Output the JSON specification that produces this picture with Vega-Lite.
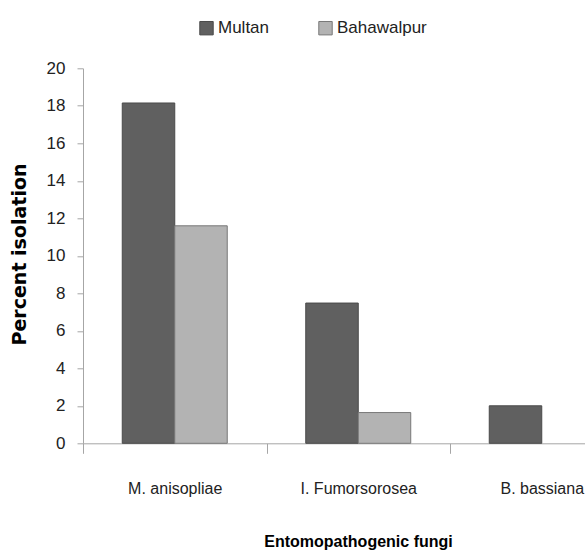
{
  "$schema": "https://vega.github.io/schema/vega-lite/v6.json",
  "autosize": {"type": "none"},
  "width": 502,
  "height": 375,
  "padding": {"left": 83, "top": 68.3, "right": 0, "bottom": 106.7},
  "background": "white",
  "config": {
    "view": {"stroke": null},
    "font": "Liberation Sans"
  },
  "data": {
    "values": [
      {"fungi": "M. anisopliae", "location": "Multan", "percent": 18.15},
      {"fungi": "M. anisopliae", "location": "Bahawalpur", "percent": 11.6},
      {"fungi": "I. Fumorsorosea", "location": "Multan", "percent": 7.48},
      {"fungi": "I. Fumorsorosea", "location": "Bahawalpur", "percent": 1.64},
      {"fungi": "B. bassiana", "location": "Multan", "percent": 2.0}
    ]
  },
  "mark": {"type": "bar", "strokeWidth": 1},
  "encoding": {
    "x": {
      "field": "fungi",
      "type": "nominal",
      "sort": ["M. anisopliae", "I. Fumorsorosea", "B. bassiana"],
      "scale": {"range": [0, 550.5], "paddingInner": 0, "paddingOuter": 0},
      "axis": {
        "title": "Entomopathogenic fungi",
        "titleFont": "Liberation Sans",
        "titleFontWeight": "bold",
        "titleFontSize": 16,
        "titleColor": "#000000",
        "titleBaseline": "alphabetic",
        "titleX": 275,
        "titleY": 103.5,
        "titleAnchor": "middle",
        "labelAngle": 0,
        "labelFont": "Liberation Sans",
        "labelFontSize": 16,
        "labelColor": "#222222",
        "labelBaseline": "alphabetic",
        "labelPadding": 40,
        "tickBand": "extent",
        "tickSize": 10,
        "tickColor": "#a6a6a6",
        "domainColor": "#a6a6a6",
        "grid": false
      }
    },
    "xOffset": {
      "field": "location",
      "type": "nominal",
      "sort": ["Multan", "Bahawalpur"],
      "scale": {"paddingInner": 0, "paddingOuter": 0.748}
    },
    "y": {
      "field": "percent",
      "type": "quantitative",
      "scale": {"domain": [0, 20], "nice": false},
      "axis": {
        "title": "Percent isolation",
        "titleFont": "DejaVu Sans",
        "titleFontWeight": "bold",
        "titleFontSize": 19,
        "titleColor": "#000000",
        "titleAngle": 270,
        "titleBaseline": "alphabetic",
        "titleAlign": "center",
        "titleX": -58,
        "titleY": 185.7,
        "values": [0, 2, 4, 6, 8, 10, 12, 14, 16, 18, 20],
        "labelFont": "Liberation Sans",
        "labelFontSize": 17,
        "labelColor": "#222222",
        "labelPadding": 12,
        "tickSize": 6,
        "tickColor": "#a6a6a6",
        "domainColor": "#a6a6a6",
        "grid": false
      }
    },
    "color": {
      "field": "location",
      "type": "nominal",
      "sort": ["Multan", "Bahawalpur"],
      "scale": {"domain": ["Multan", "Bahawalpur"], "range": ["#606060", "#b3b3b3"]},
      "legend": {
        "title": null,
        "orient": "none",
        "direction": "horizontal",
        "legendX": 115,
        "legendY": -49,
        "padding": 0,
        "symbolType": "square",
        "symbolSize": 180,
        "symbolStrokeColor": "#555555",
        "symbolStrokeWidth": 1,
        "labelFont": "Liberation Sans",
        "labelFontSize": 17,
        "labelColor": "#222222",
        "labelOffset": 3,
        "columnPadding": 46
      }
    },
    "stroke": {
      "field": "location",
      "type": "nominal",
      "scale": {"domain": ["Multan", "Bahawalpur"], "range": ["#4a4a4a", "#787878"]},
      "legend": null
    }
  }
}
